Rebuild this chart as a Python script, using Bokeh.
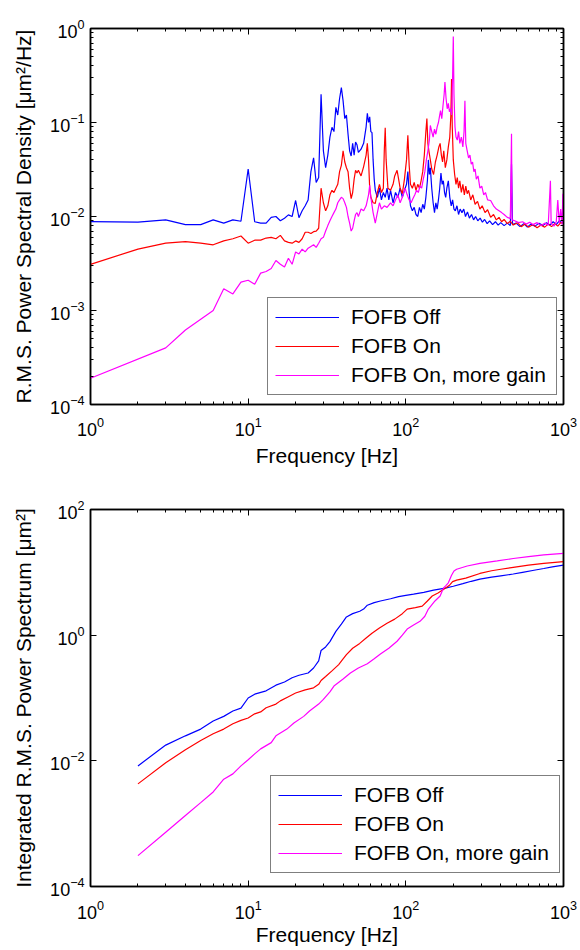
from bokeh.plotting import figure
from bokeh.models import LogAxis, FixedTicker, Range1d, Legend, LegendItem
from bokeh.layouts import column
from bokeh.embed import file_html
from bokeh.resources import INLINE

# ---------------- data: power spectral density (top) ----------------
psd_off = [(1, .0088), (2, .0087), (3, .0092), (4, .0082), (5, .0082), (6, .0092), (7, .0085), (8, .0092),
           (9, .0089), (10, .032), (11, .0088), (12, .0085), (13, .0085), (14, .0098), (15, .0100), (16, .0090),
           (17, .0096), (18, .0104), (19, .0100), (20, .0148), (21, .0097), (22, .0115), (23, .0130), (24, .0150),
           (25, .030), (26, .042), (27, .023), (28, .026), (29, .200), (30, .050), (31, .033), (32, .045),
           (33, .070), (34, .089), (35, .080), (36, .145), (37, .120), (38, .180), (39, .235), (40, .170),
           (41, .110), (42, .120), (43, .075), (44, .050), (45, .044), (46, .060), (47, .045), (48, .062),
           (49, .058), (50, .048), (52, .052), (54, .060), (56, .090), (57, .125), (58, .100), (59, .115),
           (60, .080), (61, .078), (62, .040), (63, .025), (64, .019), (66, .016), (68, .020), (70, .015),
           (72, .018), (74, .016), (76, .020), (78, .015), (80, .019), (83, .014), (86, .018), (89, .016),
           (92, .020), (95, .016), (98, .019), (101, .022), (103, .030), (105, .018), (107, .013), (110, .0115),
           (113, .0125), (116, .0105), (119, .0100), (122, .0125), (125, .011), (128, .0135), (131, .012),
           (134, .016), (137, .024), (139, .040), (141, .028), (143, .033), (146, .020), (149, .014), (152, .011),
           (155, .014), (158, .012), (161, .015), (164, .020), (167, .029), (170, .022), (173, .024), (176, .018),
           (179, .016), (182, .020), (186, .024), (190, .016), (194, .013), (198, .015), (202, .012), (206, .0115),
           (211, .013), (216, .0105), (221, .012), (227, .0110), (233, .0120), (239, .0100), (246, .0112),
           (253, .0096), (261, .0105), (269, .0092), (277, .0100), (286, .0090), (296, .0096), (306, .0087),
           (316, .0093), (328, .0084), (340, .0090), (355, .0082), (370, .0088), (385, .0081), (400, .0086),
           (420, .0080), (440, .0085), (460, .0080), (468, .036), (475, .0082), (500, .0085), (530, .0078),
           (560, .0084), (590, .0077), (620, .0083), (660, .0079), (700, .0085), (740, .0080), (780, .0086),
           (820, .0081), (860, .0088), (900, .0082), (940, .0090), (980, .0085), (1000, .0092)]

psd_on = [(1, .0031), (2, .0045), (3, .0052), (4, .0054), (5, .0052), (6, .0050), (7, .0055), (8, .0058),
          (9, .0062), (10, .0052), (11, .0056), (12, .0056), (13, .0059), (14, .0060), (15, .0058), (16, .0063),
          (17, .0055), (18, .0053), (19, .0052), (20, .0055), (21, .0053), (22, .0058), (23, .0068), (24, .0068),
          (25, .0066), (26, .0069), (27, .0070), (28, .0075), (29, .020), (30, .014), (31, .0115), (32, .013),
          (33, .017), (34, .019), (35, .018), (36, .020), (37, .022), (38, .030), (39, .035), (40, .050),
          (41, .038), (42, .033), (43, .030), (44, .020), (45, .0155), (46, .018), (47, .025), (48, .031),
          (49, .029), (50, .031), (52, .027), (54, .034), (56, .045), (57, .060), (58, .040), (59, .020),
          (60, .016), (62, .014), (64, .0138), (66, .018), (68, .022), (70, .018), (72, .020), (73, .050),
          (74, .088), (75, .040), (77, .020), (80, .019), (83, .022), (85, .027), (88, .031), (90, .025),
          (92, .020), (95, .0175), (98, .025), (101, .040), (103, .073), (105, .035), (107, .022), (110, .020),
          (113, .023), (116, .019), (119, .022), (122, .020), (125, .024), (128, .030), (131, .045), (134, .080),
          (136, .110), (138, .060), (140, .050), (143, .040), (146, .032), (150, .028), (154, .038), (158, .045),
          (162, .055), (165, .060), (168, .045), (171, .038), (174, .050), (178, .033), (182, .040), (186, .055),
          (190, .070), (193, .120), (195, .290), (197, .090), (200, .040), (204, .028), (208, .022), (212, .026),
          (216, .020), (220, .024), (225, .018), (230, .022), (235, .017), (240, .021), (245, .0175), (250, .019),
          (258, .015), (266, .017), (275, .0135), (285, .0145), (295, .012), (305, .013), (318, .011),
          (330, .0118), (345, .0098), (360, .0105), (375, .0092), (390, .0098), (405, .0088), (420, .0093),
          (440, .0084), (460, .0089), (480, .0081), (510, .0086), (540, .0078), (570, .0083), (600, .0077),
          (640, .0082), (680, .0076), (720, .0081), (760, .0077), (800, .0083), (840, .0078), (880, .0084),
          (920, .0079), (960, .0086), (1000, .0085)]

psd_gain = [(1, .00019), (3, .00040), (4, .00062), (6, .00100), (7, .0017), (8, .0015), (9, .0020), (10, .0021),
            (11, .0019), (12, .0025), (13, .0026), (14, .0028), (15, .0034), (16, .0031), (17, .0029), (18, .0036),
            (19, .0031), (20, .0042), (21, .0040), (22, .0045), (23, .0042), (24, .0046), (25, .0048), (26, .0050),
            (27, .0047), (28, .0052), (29, .0058), (30, .0060), (31, .0070), (32, .0080), (33, .0090), (34, .0100),
            (35, .011), (36, .012), (37, .014), (38, .015), (39, .016), (40, .0155), (41, .014), (42, .0125),
            (43, .010), (44, .0085), (45, .0070), (46, .0075), (47, .0090), (48, .0105), (49, .011), (50, .0100),
            (52, .012), (54, .0115), (56, .013), (58, .017), (59, .0215), (60, .016), (62, .0110), (64, .0085),
            (66, .011), (68, .014), (70, .012), (73, .013), (76, .0125), (80, .014), (83, .013), (86, .015),
            (89, .017), (92, .014), (95, .016), (99, .020), (102, .017), (105, .015), (108, .014), (111, .0155),
            (114, .017), (117, .019), (120, .018), (123, .021), (126, .020), (129, .025), (132, .030), (135, .040),
            (138, .050), (141, .065), (143, .093), (146, .080), (149, .070), (152, .085), (155, .075), (158, .090),
            (161, .100), (164, .120), (166, .134), (169, .110), (172, .150), (175, .200), (177, .270), (180, .180),
            (183, .140), (186, .160), (189, .130), (192, .140), (195, .120), (198, .300), (200, .820), (202, .200),
            (205, .090), (208, .070), (212, .065), (216, .080), (220, .060), (225, .070), (230, .055), (234, .080),
            (237, .170), (240, .060), (245, .050), (250, .042), (255, .045), (260, .036), (265, .038), (270, .030),
            (275, .032), (280, .025), (287, .027), (295, .020), (303, .021), (312, .017), (320, .018), (330, .015),
            (345, .0148), (360, .013), (375, .012), (390, .0115), (405, .011), (420, .0105), (440, .0098),
            (460, .0095), (468, .076), (472, .0092), (490, .0090), (520, .0086), (550, .0088), (580, .0083),
            (610, .0087), (640, .0082), (680, .0086), (720, .0080), (760, .0085), (800, .0081), (826, .024),
            (835, .0084), (870, .0079), (900, .0088), (920, .015), (940, .0085), (960, .012), (980, .0082),
            (990, .0175), (1000, .0095)]

# ---------------- data: integrated power spectrum (bottom) ----------------
int_off = [(2, .0083), (3, .0178), (4, .025), (5, .032), (6, .043), (7, .051), (8, .062), (9, .069), (10, .10),
           (11, .115), (13, .13), (15, .16), (17, .18), (19, .21), (21, .23), (24, .25), (26, .30), (28, .39),
           (29, .57), (31, .65), (33, .79), (36, 1.15), (39, 1.5), (42, 1.95), (46, 2.2), (51, 2.4), (54, 2.6),
           (57, 3.0), (63, 3.3), (69, 3.5), (80, 3.8), (90, 4.1), (100, 4.3), (112, 4.5), (130, 4.8), (150, 5.2),
           (178, 5.6), (200, 6.0), (230, 6.6), (260, 7.2), (295, 7.8), (350, 8.4), (400, 8.8), (480, 9.4),
           (550, 10.0), (650, 10.8), (750, 11.5), (850, 12.2), (1000, 13.0)]

int_on = [(2, .0043), (3, .0093), (4, .015), (5, .021), (6, .027), (7, .032), (8, .039), (9, .044), (10, .048),
          (11, .056), (12, .060), (13, .070), (15, .080), (16, .090), (18, .105), (20, .12), (23, .135), (26, .145),
          (28, .165), (29, .19), (31, .22), (34, .27), (37.5, .34), (40, .42), (42, .49), (46, .62), (51, .74),
          (56, .90), (61, 1.07), (68, 1.3), (76, 1.55), (85, 1.8), (95, 2.2), (102, 2.6), (115, 2.75), (127, 2.9),
          (137, 3.5), (147, 4.2), (160, 4.7), (178, 5.6), (190, 6.3), (198, 7.1), (210, 7.5), (240, 8.1),
          (295, 9.6), (350, 10.6), (400, 11.2), (480, 12.0), (600, 13.0), (750, 13.9), (1000, 14.8)]

int_gain = [(2, .00031), (3, .00073), (4, .00135), (5, .00216), (6, .0032), (7, .0051), (8, .0062), (9, .0083),
            (10, .0104), (11, .0129), (12, .0155), (14, .0195), (15, .025), (17.6, .032), (19.5, .040),
            (22.5, .051), (24.5, .062), (28, .080), (30, .095), (33, .125), (35, .155), (40, .20), (44.5, .25),
            (50, .30), (57, .35), (63, .42), (69, .50), (78, .62), (88, .80), (95, 1.0), (102, 1.25), (112, 1.45),
            (123, 1.66), (132, 2.0), (139, 2.6), (153, 3.5), (165, 4.2), (173, 5.6), (180, 6.2), (186, 6.8),
            (195, 9.0), (202, 10.5), (210, 11.2), (245, 12.6), (295, 13.9), (380, 15.2), (480, 16.6),
            (600, 17.8), (750, 18.9), (1000, 20.0)]

series_labels = ["FOFB Off", "FOFB On", "FOFB On, more gain"]
series_colors = ["#0000ff", "#ff0000", "#ff00ff"]

x_major = [1, 10, 100, 1000]
top_y_major = [1e-4, 1e-3, 1e-2, 1e-1, 1]
bot_y_major = [1e-4, 1e-2, 1, 1e2]

FONT = "Liberation Sans"


def minors(majors):
    return [m * t for t in majors[:-1] for m in range(2, 10)]


def style_axis(ax, show_labels=True):
    ax.major_tick_in = 6
    ax.major_tick_out = 0
    ax.minor_tick_in = 3
    ax.minor_tick_out = 0
    ax.axis_line_color = "black"
    ax.axis_line_width = 1.5
    ax.major_tick_line_color = "black"
    ax.minor_tick_line_color = "black"
    ax.major_label_text_font = FONT
    ax.major_label_text_color = "black"
    ax.axis_label_text_font = FONT
    ax.axis_label_text_font_size = "21px"
    ax.axis_label_text_font_style = "normal"
    ax.axis_label_text_color = "black"
    if show_labels:
        ax.major_label_text_font_size = "18px"
    else:
        ax.major_label_text_font_size = "2px"
        ax.major_label_text_alpha = 0.0
        ax.major_label_standoff = 0


def make_plot(data, ymin, ymax, ymajor, yminor, ylabel, btop, bbottom, fheight, legend_loc,
              xtick_standoff, xlabel_standoff):
    p = figure(x_axis_type="log", y_axis_type="log",
               x_range=Range1d(1, 1000), y_range=Range1d(ymin, ymax),
               frame_width=473, frame_height=fheight,
               min_border_left=90, min_border_right=17,
               min_border_top=btop, min_border_bottom=bbottom,
               output_backend="svg", toolbar_location=None)
    p.grid.visible = False
    p.outline_line_color = "black"
    p.outline_line_width = 1.5
    p.background_fill_color = "white"
    p.border_fill_color = "white"

    p.xaxis.ticker = FixedTicker(ticks=x_major, minor_ticks=minors(x_major))
    p.yaxis.ticker = FixedTicker(ticks=ymajor, minor_ticks=yminor)
    p.xaxis.axis_label = "Frequency [Hz]"
    p.yaxis.axis_label = ylabel
    for ax in p.xaxis:
        style_axis(ax)
        ax.major_label_standoff = xtick_standoff
        ax.axis_label_standoff = xlabel_standoff
    for ax in p.yaxis:
        style_axis(ax)
        ax.major_label_standoff = 6
        ax.axis_label_standoff = 12

    top_ax = LogAxis(ticker=FixedTicker(ticks=x_major, minor_ticks=minors(x_major)))
    style_axis(top_ax, show_labels=False)
    p.add_layout(top_ax, "above")
    right_ax = LogAxis(ticker=FixedTicker(ticks=ymajor, minor_ticks=yminor))
    style_axis(right_ax, show_labels=False)
    p.add_layout(right_ax, "right")

    items = []
    for pts, lab, col in zip(data, series_labels, series_colors):
        fx = [a for a, b in pts]
        fy = [b for a, b in pts]
        r = p.line(fx, fy, line_color=col, line_width=1.2)
        items.append(LegendItem(label=lab, renderers=[r]))

    leg = Legend(items=items, location=legend_loc,
                 border_line_color="black", border_line_width=1.5,
                 background_fill_color="white", background_fill_alpha=1.0,
                 label_text_font=FONT, label_text_font_size="21px", label_text_color="black",
                 glyph_width=64, glyph_height=24, label_height=24, label_width=198,
                 label_standoff=12, padding=7, spacing=5, margin=0)
    p.add_layout(leg)
    return p


p1 = make_plot([psd_off, psd_on, psd_gain], 1e-4, 1, top_y_major, minors(top_y_major),
               "R.M.S. Power Spectral Density [\u03bcm\u00b2/Hz]", 28, 66, 376, (177, 9), 12, 5)
p2 = make_plot([int_off, int_on, int_gain], 1e-4, 1e2, bot_y_major, [],
               "Integrated R.M.S. Power Spectrum [\u03bcm\u00b2]", 39, 64, 377, (180, 13), 13, 1)

layout = column(p1, p2, spacing=0)
open("out.html", "w").write(file_html(layout, INLINE))
